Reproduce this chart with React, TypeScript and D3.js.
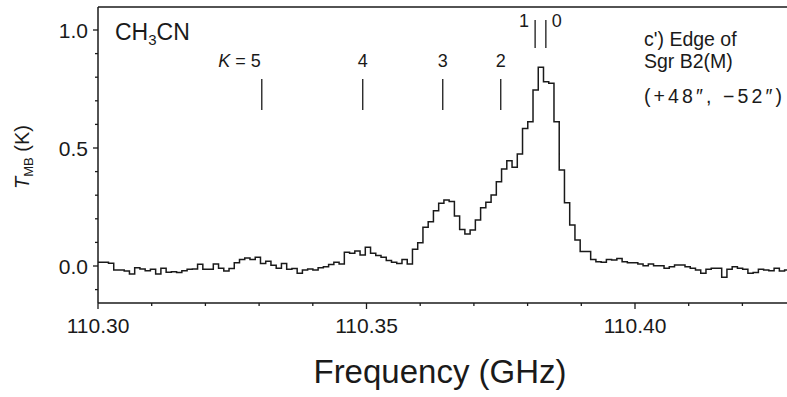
import React from 'react';
import * as d3 from 'd3';

const W = 787;
const H = 397;

// Spectrum: channel left edges start at CHANNEL_START, equal channel width (GHz)
const CHANNEL_START = 110.3;
const CHANNEL_WIDTH = 0.000976;
const TMB: number[] = [
  0.016, 0.016, 0.012, -0.017, -0.017, -0.021, -0.034, -0.007, -0.013, -0.020,
  -0.014, -0.034, -0.010, -0.027, -0.024, -0.028, -0.020, -0.014, -0.013, 0.007,
  -0.014, -0.014, 0.008, -0.010, -0.021, -0.011, 0.014, 0.028, 0.034, 0.028,
  0.037, 0.011, 0.020, 0.003, -0.010, 0.011, -0.014, -0.011, -0.031, -0.017,
  -0.013, -0.017, -0.007, -0.003, 0.006, 0.016, 0.008, 0.058, 0.054, 0.064,
  0.047, 0.079, 0.054, 0.044, 0.037, 0.023, 0.016, 0.011, 0.028, 0.008,
  0.071, 0.099, 0.164, 0.188, 0.234, 0.266, 0.280, 0.273, 0.212, 0.155,
  0.136, 0.153, 0.195, 0.247, 0.270, 0.301, 0.357, 0.411, 0.446, 0.418,
  0.475, 0.583, 0.611, 0.746, 0.842, 0.781, 0.774, 0.611, 0.407, 0.268,
  0.174, 0.110, 0.061, 0.061, 0.028, 0.018, 0.016, 0.028, 0.025, 0.032,
  0.018, 0.014, 0.014, 0.008, 0.001, 0.008, 0.001, 0.001, -0.010, -0.003,
  0.004, 0.004, -0.003, -0.010, -0.017, -0.031, -0.014, -0.010, -0.010, -0.048,
  -0.014, -0.003, -0.010, -0.014, -0.031, -0.028, -0.014, -0.017, -0.020, -0.010,
  -0.021, -0.017,
];

const FREQ_MAJOR = [110.3, 110.35, 110.4];
const FREQ_LABELS = ['110.30', '110.35', '110.40'];
const TMB_MAJOR = [0, 0.5, 1.0];
const TMB_LABELS = ['0.0', '0.5', '1.0'];

const K_NAMES = ['5', '4', '3', '2', '1', '0'];
const K_FREQS = [110.3305, 110.3493, 110.3642, 110.375, 110.3814, 110.3834];

const ANNOT = ["c') Edge of", 'Sgr B2(M)', '(+48\u2033, \u221252\u2033)'];

const FONT = "'Liberation Sans', Arial, Helvetica, sans-serif";
const INK = '#1a1a1a';

export default function App() {
  const left = 98;
  const top = 7;
  const bottom = 303;

  const x = d3.scaleLinear().domain([110.3, 110.4]).range([98, 635]);
  const y = d3.scaleLinear().domain([0, 1]).range([266, 30]);

  const maxF = x.invert(W);
  const minorF = d3.range(0, 20).map((i) => 110.3 + i * 0.01).filter((f) => f <= maxF + 1e-9);
  const minorT = d3.range(-1, 11).map((i) => i / 10);

  const pts: [number, number][] = TMB.map((v, i) => [CHANNEL_START + i * CHANNEL_WIDTH, v]);
  pts.push([CHANNEL_START + TMB.length * CHANNEL_WIDTH, TMB[TMB.length - 1]]);
  const line = d3
    .line<[number, number]>()
    .x((d) => x(d[0]))
    .y((d) => y(d[1]))
    .curve(d3.curveStepAfter);

  const isMajorF = (f: number) => FREQ_MAJOR.some((m) => Math.abs(m - f) < 1e-6);
  const isMajorT = (t: number) => TMB_MAJOR.some((m) => Math.abs(m - t) < 1e-6);

  return (
    <div style={{ position: 'absolute', left: 0, top: 0 }}>
      <svg width={W} height={H} viewBox={`0 0 ${W} ${H}`} style={{ display: 'block', background: '#fff' }}>
        <defs>
          <clipPath id="plotclip">
            <rect x={left} y={top} width={W - left} height={bottom - top} />
          </clipPath>
        </defs>
        <rect x={0} y={0} width={W} height={H} fill="#fff" />

        {/* frame */}
        <line x1={left} x2={W} y1={top} y2={top} stroke={INK} strokeWidth={1.5} />
        <line x1={left} x2={W} y1={bottom} y2={bottom} stroke={INK} strokeWidth={1.5} />
        <line x1={left} x2={left} y1={top} y2={bottom} stroke={INK} strokeWidth={1.5} />

        {/* x ticks */}
        {minorF.map((f, i) => (
          <line
            key={'xf' + i}
            x1={x(f)}
            x2={x(f)}
            y1={bottom}
            y2={bottom + (isMajorF(f) ? 6 : 3)}
            stroke={INK}
            strokeWidth={1.3}
          />
        ))}
        {FREQ_MAJOR.map((f, i) => (
          <text
            key={'xl' + i}
            x={x(f)}
            y={333}
            textAnchor="middle"
            fontFamily={FONT}
            fontSize={21}
            fill={INK}
          >
            {FREQ_LABELS[i]}
          </text>
        ))}

        {/* y ticks */}
        {minorT.map((t, i) => (
          <line
            key={'yt' + i}
            x1={left - (isMajorT(t) ? 5 : 3)}
            x2={left}
            y1={y(t)}
            y2={y(t)}
            stroke={INK}
            strokeWidth={1.3}
          />
        ))}
        {TMB_MAJOR.map((t, i) => (
          <text
            key={'yl' + i}
            x={88}
            y={y(t) + 7.5}
            textAnchor="end"
            fontFamily={FONT}
            fontSize={21}
            fill={INK}
          >
            {TMB_LABELS[i]}
          </text>
        ))}

        {/* axis titles */}
        <text x={440} y={383} textAnchor="middle" fontFamily={FONT} fontSize={33} fill={INK}>
          Frequency (GHz)
        </text>
        <text
          transform="translate(29,157) rotate(-90)"
          textAnchor="middle"
          fontFamily={FONT}
          fontSize={20}
          fill={INK}
        >
          <tspan fontStyle="italic">T</tspan>
          <tspan fontSize={13} dy={4}>MB</tspan>
          <tspan dy={-4}> (K)</tspan>
        </text>

        {/* spectrum */}
        <path d={line(pts) || ''} fill="none" stroke={INK} strokeWidth={1.5} clipPath="url(#plotclip)" />

        {/* K markers */}
        {K_NAMES.map((k, i) => {
          const xf = x(K_FREQS[i]);
          const upper = i >= 4;
          const y1 = upper ? 20 : 79;
          const y2 = upper ? 48 : 110;
          let lx = xf;
          let anchor: 'start' | 'middle' | 'end' = 'middle';
          if (i === 0) {
            lx = xf - 1;
            anchor = 'end';
          } else if (i === 4) {
            lx = xf - 11;
          } else if (i === 5) {
            lx = xf + 11;
          }
          return (
            <g key={'k' + i}>
              <line x1={xf} x2={xf} y1={y1} y2={y2} stroke={INK} strokeWidth={1.3} />
              <text
                x={lx}
                y={upper ? 27 : 67}
                textAnchor={anchor}
                fontFamily={FONT}
                fontSize={18}
                fill={INK}
              >
                {i === 0 ? (
                  <>
                    <tspan fontStyle="italic">K</tspan>
                    <tspan> = {k}</tspan>
                  </>
                ) : (
                  k
                )}
              </text>
            </g>
          );
        })}

        {/* molecule label */}
        <text x={115} y={40} fontFamily={FONT} fontSize={23} fill={INK}>
          CH<tspan fontSize={15} dy={5}>3</tspan>
          <tspan dy={-5}>CN</tspan>
        </text>

        {/* annotation */}
        <text x={644} y={46} fontFamily={FONT} fontSize={19.5} fill={INK}>
          {ANNOT[0]}
        </text>
        <text x={644} y={68} fontFamily={FONT} fontSize={19.5} fill={INK}>
          {ANNOT[1]}
        </text>
        <text x={644} y={103} fontFamily={FONT} fontSize={19.5} fill={INK} textLength={138} lengthAdjust="spacing">
          {ANNOT[2]}
        </text>
      </svg>
    </div>
  );
}
